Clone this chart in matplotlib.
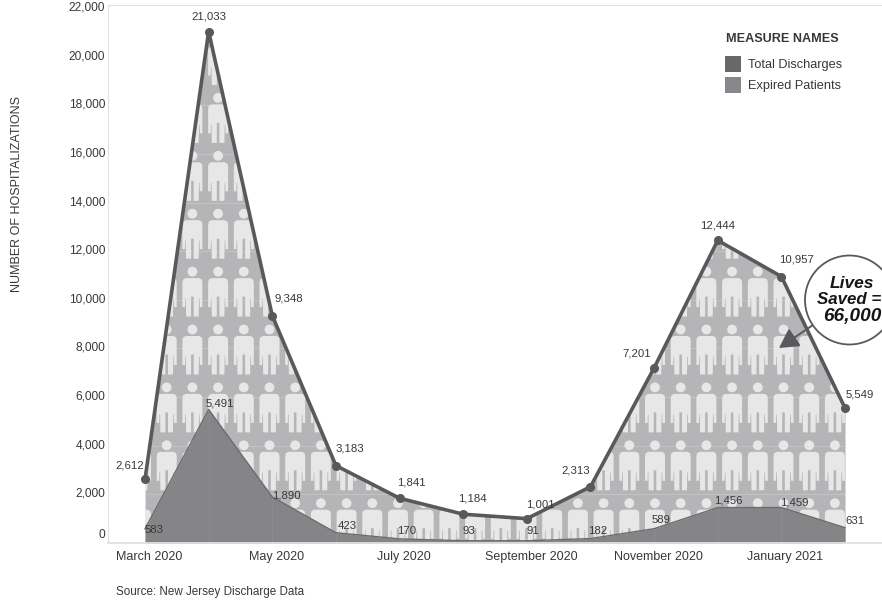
import numpy as np
import matplotlib
matplotlib.use("Agg")
import matplotlib.pyplot as plt
from matplotlib.patches import Circle, PathPatch, Rectangle
from matplotlib.path import Path
from matplotlib.transforms import Affine2D, ScaledTranslation

plt.rcParams["font.family"] = ["Liberation Sans", "DejaVu Sans"]

months = ["March 2020", "April 2020", "May 2020", "June 2020", "July 2020", "August 2020",
          "September 2020", "October 2020", "November 2020", "December 2020", "January 2021",
          "February 2021"]
total_discharges = [2612, 21033, 9348, 3183, 1841, 1184, 1001, 2313, 7201, 12444, 10957, 5549]
expired_patients = [583, 5491, 1890, 423, 170, 93, 91, 182, 589, 1456, 1459, 631]

# label offsets in pixels from each point
total_offsets = [(-15, 14), (0, 15), (17, 17), (14, 17), (12, 16), (9, 16), (14, 14), (-15, 16),
                 (-17, 14), (0, 15), (15, 17), (15, 14)]
expired_offsets = [(9, -1), (11, 6), (14, 2), (11, 7), (7, 8), (6, 10), (6, 10), (7, 8), (7, 9),
                   (11, 7), (13, 5), (10, 7)]

W, H = 882, 604
DARK = "#59595c"
TEXT = "#38383a"

fig = plt.figure(figsize=(W / 100, H / 100), dpi=100, facecolor="white")
# pixel coordinates, y going down
px = Affine2D().scale(1, -1).translate(0, H)

left, right, top, bottom = 108, 882, 5, 543
ax = fig.add_axes([left / W, 1 - bottom / H, (right - left) / W, (bottom - top) / H])
x = np.arange(len(months))
ax.set_xlim((left - 145) / 63.64, (right - 145) / 63.64)
ax.set_ylim(0, (bottom - top) / ((bottom - 8) / 22000))

area = ax.fill_between(x, 0, total_discharges, color="#b5b5b7", lw=0, zorder=1)
area_clip = (area.get_paths()[0], ax.transData)


def person(cx, cy):
    half = [(0, 6.5), (6.8, 6.5), (9.4, 8), (10, 11), (10, 35.5), (7.4, 35.5), (7.2, 27),
            (6.6, 27), (6.3, 45), (1.3, 45), (1.3, 25), (0, 25)]
    body = half + [(-a, b) for a, b in half[::-1][1:-1]]
    body = np.array(body) + (cx, cy)
    body = Path(np.vstack([body, body[:1]]), closed=True)
    head = Path.circle((cx, cy), 4.9)
    return [body, head]


# tiled people behind the lines
icons = []
for cy in np.arange(40, 570, 57.9):
    for cx in np.arange(141, 860, 25.7):
        icons += person(cx, cy)
people = PathPatch(Path.make_compound_path(*icons), fc="#e7e7e8", ec="none",
                   transform=px, zorder=2)
ax.add_patch(people)
people.set_clip_path(*area_clip)

grid_y = np.arange(2000, 22001, 2000)
grid = ax.hlines(grid_y, x[0], x[-1], color="#c4c4c6", lw=0.7, zorder=1.5)
grid.set_clip_path(*area_clip)

low = ax.fill_between(x, 0, expired_patients, color="#858587", lw=0, zorder=4)
ax.plot(x, expired_patients, color="#6c6c6e", lw=1.0, zorder=5)
vgrid = ax.vlines(x[1:-1], 0, 6000, color="#8e8e90", lw=0.6, zorder=4.5)
vgrid.set_clip_path(low.get_paths()[0], ax.transData)

ax.plot(x, total_discharges, color=DARK, lw=2.6, marker="o", ms=5.5, zorder=6,
        solid_joinstyle="round", clip_on=False)

for i, v in enumerate(total_discharges):
    ax.annotate(f"{v:,}", (x[i], v), xytext=total_offsets[i], textcoords="offset pixels",
                ha="center", va="center", fontsize=8.2, color=TEXT, zorder=7)
for i, v in enumerate(expired_patients):
    ax.annotate(f"{v:,}", (x[i], v), xytext=expired_offsets[i], textcoords="offset pixels",
                ha="center", va="center", fontsize=8.2, color=TEXT, zorder=7)

ax.spines["right"].set_visible(False)
for side in ["left", "top", "bottom"]:
    ax.spines[side].set_color("#e2e2e2")
ax.spines["bottom"].set_linewidth(1.3)
ax.spines["bottom"].set_zorder(8)

ax.set_xticks(x[::2])
ax.set_xticklabels(months[::2])
ax.set_yticks(np.arange(0, 22001, 2000))
ax.set_yticklabels([f"{v:,}" for v in np.arange(0, 22001, 2000)])
ax.tick_params(length=0, labelsize=9, labelcolor=TEXT)
ax.tick_params(axis="x", pad=6)
ax.tick_params(axis="y", labelsize=8.6, pad=2)
for label in ax.get_xticklabels():
    label.set_transform(label.get_transform() + ScaledTranslation(4 / 100, 0, fig.dpi_scale_trans))
for label in ax.get_yticklabels():
    shift = 10 if label.get_text() == "0" else 2
    label.set_transform(label.get_transform() + ScaledTranslation(0, shift / 100, fig.dpi_scale_trans))

fig.text(17 / W, 1 - 194 / H, "NUMBER OF HOSPITALIZATIONS", rotation=90, ha="center", va="center",
         fontsize=9, color=TEXT)
fig.text(116 / W, 1 - 592 / H, "Source: New Jersey Discharge Data", ha="left", va="center",
         fontsize=8.4, color=TEXT)

# legend
fig.text(726 / W, 1 - 39.5 / H, "MEASURE NAMES", ha="left", va="center", fontsize=9.1,
         fontweight="bold", color=TEXT)
legend_names = ["Total Discharges", "Expired Patients"]
legend_colors = ["#68686c", "#88888c"]
for name, color, y0 in zip(legend_names, legend_colors, [56, 77]):
    fig.add_artist(Rectangle((725, y0), 16, 16, fc=color, ec="none", transform=px))
    fig.text(748 / W, 1 - (y0 + 9) / H, name, ha="left", va="center", fontsize=9.2, color=TEXT)

# callout
fig.add_artist(Circle((849.5, 300), 44.5, fc="white", ec=DARK, lw=1.3, transform=px, zorder=3))
callout_lines = ["Lives", "Saved =", "66,000"]
callout_sizes = [12.5, 12.2, 13.7]
for line, size, cx, cy in zip(callout_lines, callout_sizes, [852, 849, 852], [283, 300, 316]):
    fig.text(cx / W, 1 - cy / H, line, ha="center", va="center", fontsize=size,
             fontweight="bold", fontstyle="italic", color="#161616", zorder=4)
ax.annotate("", xy=(779, H - 348), xytext=(813, H - 325), xycoords="figure pixels",
            textcoords="figure pixels", zorder=7,
            arrowprops=dict(arrowstyle="-|>,head_length=0.9,head_width=0.5", color=DARK, lw=1.4,
                            shrinkA=0, shrinkB=0, mutation_scale=13))

fig.savefig("out.png", dpi=100)
